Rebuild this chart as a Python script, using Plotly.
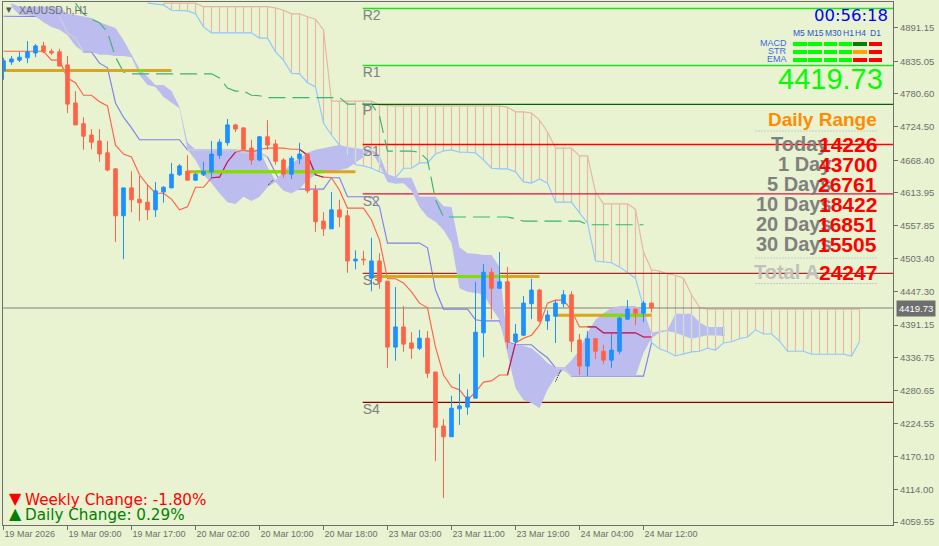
import plotly.graph_objects as go

# ---- candles (one per bar, index = bar number) ----
opens = [4819,4834,4837,4841,4849,4861,4852,4851,4829,4765,4730,4711,4701,4681,4654,4575,4622,4603,4598,4585,4615,4622,4644,4650,4635,4644,4649,4677,4698,4728,4723,4689,4669,4708,4696,4669,4645,4671,4679,4618,4566,4553,4585,4575,4499,4502,4470,4499,4465,4354,4388,4361,4352,4369,4312,4221,4203,4250,4253,4268,4378,4480,4453,4464,4363,4374,4427,4450,4398,4406,4427,4442,4366,4322,4368,4347,4332,4347,4401,4418,4411,4428]
highs = [4841,4844,4851,4869,4864,4868,4856,4856,4844,4785,4741,4721,4721,4701,4655,4622,4650,4642,4627,4632,4625,4664,4662,4677,4647,4666,4701,4704,4738,4730,4724,4703,4709,4736,4703,4672,4676,4698,4679,4627,4581,4615,4602,4585,4517,4516,4538,4512,4465,4455,4423,4379,4383,4381,4312,4233,4272,4309,4283,4464,4494,4487,4514,4489,4393,4440,4469,4452,4416,4433,4450,4448,4376,4381,4369,4358,4376,4405,4433,4418,4432,4428]
lows = [4804,4829,4834,4832,4842,4849,4846,4827,4748,4728,4686,4687,4666,4650,4531,4502,4581,4566,4568,4573,4597,4622,4642,4635,4634,4642,4637,4671,4693,4716,4686,4661,4667,4686,4661,4639,4637,4662,4613,4548,4541,4553,4556,4479,4485,4492,4448,4452,4319,4331,4346,4334,4349,4302,4162,4100,4203,4223,4240,4268,4337,4401,4453,4351,4359,4373,4401,4396,4383,4361,4421,4346,4307,4305,4334,4326,4319,4342,4400,4391,4396,4413]
closes = [4836,4839,4842,4851,4861,4851,4849,4827,4763,4728,4709,4699,4679,4652,4575,4622,4602,4597,4585,4617,4623,4645,4659,4635,4645,4650,4679,4699,4728,4721,4687,4669,4708,4694,4667,4645,4672,4679,4617,4565,4553,4585,4573,4499,4502,4501,4499,4464,4354,4388,4359,4352,4369,4310,4219,4203,4251,4255,4270,4379,4480,4453,4464,4363,4376,4428,4450,4398,4408,4428,4442,4364,4322,4368,4347,4332,4349,4403,4418,4411,4428,4419.73]

# ---- ichimoku-style lines ----
tenkan = [4852,4852,4852,4852,4852,4852,4837,4837,4807,4799,4778,4778,4767,4760,4694,4679,4674,4644,4627,4613,4613,4603,4585,4590,4623,4623,4639,4640,4666,4682,4686,4682,4687,4689,4689,4689,4687,4687,4677,4644,4640,4639,4618,4588,4588,4588,4568,4534,4469,4469,4462,4447,4428,4420,4354,4307,4287,4282,4265,4278,4295,4297,4307,4307,4361,4369,4374,4391,4428,4433,4433,4416,4388,4388,4388,4378,4378,4378,4378,4378,4371,4371]
kijun = [4911,4911,4911,4911,4911,4911,4911,4910,4883,4874,4851,4851,4832,4824,4765,4741,4723,4703,4703,4703,4703,4703,4703,4686,4686,4686,4686,4686,4686,4686,4681,4681,4681,4674,4647,4623,4620,4620,4620,4620,4620,4639,4639,4607,4607,4607,4607,4590,4529,4529,4529,4529,4529,4521,4450,4418,4418,4418,4418,4400,4398,4398,4398,4363,4358,4358,4358,4346,4336,4319,4319,4305,4305,4305,4305,4305,4305,4305,4305,4305,4305,4361]
chikou_first_bar = 9
chikou = [4933,4915,4906,4900,4884,4842,4817,4814,4814,4814,4814,4814,4814,4814,4814,4814,4814,4814,4807,4790,4785,4785,4778,4777,4774,4774,4774,4774,4774,4774,4774,4774,4774,4774,4763,4763,4763,4763,4743,4684,4684,4684,4684,4682,4669,4602,4573,4573,4573,4573,4573,4573,4573,4573,4573,4570,4566,4566,4566,4566,4566,4566,4566,4566,4560,4560,4560,4560,4560,4560,4560,4560]

# upper hatched band, salmon edge from bar 20, blue edge from bar 18
salmon_first_bar = 20
salmon = [4933,4933,4933,4933,4933,4927,4927,4927,4927,4927,4927,4927,4927,4927,4925,4921,4915,4915,4910,4906,4888,4768,4768,4768,4768,4768,4768,4761,4760,4760,4760,4760,4760,4760,4760,4760,4760,4760,4760,4760,4760,4760,4760,4758,4750,4750,4748,4736,4716,4689,4689,4689,4676,4676,4615,4595,4595,4595,4595,4586,4514,4484,4482,4477,4475,4470,4442,4421,4418,4418,4418,4418,4418,4418,4418,4418,4418,4418,4418,4418,4418,4418,4418,4418,4418,4418,4418,4418]
sky_first_bar = 18
sky = [4933,4932,4930,4921,4921,4920,4915,4893,4883,4883,4883,4883,4883,4883,4874,4874,4851,4837,4815,4814,4799,4792,4731,4711,4694,4677,4661,4659,4655,4649,4644,4639,4655,4655,4664,4664,4679,4684,4686,4682,4682,4681,4669,4655,4654,4654,4649,4632,4630,4637,4630,4598,4598,4598,4580,4563,4499,4497,4496,4489,4480,4470,4421,4362,4351,4346,4339,4342,4346,4347,4352,4349,4361,4363,4368,4371,4383,4376,4376,4364,4347,4347,4347,4342,4342,4342,4342,4342,4339,4363]

# lavender cloud, bars 1..90
cloud_first_bar = 1
cloud_top = [4933,4927,4927,4927,4927,4927,4925,4915,4913,4911,4908,4901,4896,4891,4871,4847,4822,4809,4795,4795,4785,4758,4699,4686,4686,4686,4686,4686,4686,4686,4686,4686,4657,4635,4649,4664,4672,4681,4686,4689,4692,4694,4691,4689,4687,4687,4677,4644,4639,4639,4639,4607,4607,4607,4591,4590,4522,4512,4511,4509,4509,4489,4361,4359,4356,4352,4341,4327,4319,4318,4332,4349,4378,4400,4411,4420,4423,4423,4423,4413,4378,4381,4383,4410,4410,4410,4396,4388,4388,4388]
cloud_bottom = [4927,4913,4912,4911,4901,4893,4888,4879,4861,4851,4851,4846,4846,4844,4844,4842,4812,4795,4792,4775,4765,4756,4686,4669,4644,4630,4613,4598,4595,4607,4600,4607,4623,4632,4617,4613,4620,4635,4644,4649,4649,4652,4655,4664,4674,4684,4660,4632,4629,4630,4617,4590,4573,4565,4551,4529,4453,4447,4445,4443,4420,4400,4344,4285,4265,4260,4251,4282,4304,4315,4305,4305,4305,4305,4305,4305,4305,4305,4305,4344,4369,4378,4381,4378,4373,4368,4371,4374,4373,4373]

tenkan_cloud_bars = [26,27,28,29,37,38,39,40,63,64,73,74,75,76,77,78,79,80,81]
kijun_cloud_bars = [7,8,9,10,23,24,25,26,27,28,29,30,31,32,33,69,70,71]

# small dark dotted marks where the cloud twists
twist_bars = [33.1, 33.7, None, 69.0, 69.65]
twist_prices = [4627, 4635, None, 4296, 4315]

# ---- levels ----
pivot_names = ["R2","R1","P","S1","S2","S3","S4"]
pivot_levels = [4924,4828,4762.4,4695,4612,4478,4261]
pivot_label_prices = [4911,4815,4750,4682,4598,4465,4248]
pivot_colors = ["#22DD22","#22DD22","#006400","#FF0000","#DC143C","#A52A2A","#8B0000"]
pivot_first_bar = 44.9

gold_levels = [4819.6,4649,4473,4407.5]
gold_starts = [0,23,46,69]
gold_ends = [21,44,67,81]
lime_starts = [16.9,24,56.5,75]
lime_ends = [17.6,40,62.5,80]

last_price = 4419.73

# ---- axes ----
y_ticks = [4891.15,4835.05,4780.60,4724.50,4668.40,4613.95,4557.85,4503.40,4447.30,4391.15,4336.75,4280.65,4224.55,4170.10,4114.00,4059.55]
x_tick_bars = [0,8,16,24,32,40,48,56,64,72,80]
x_tick_labels = ["19 Mar 2026","19 Mar 09:00","19 Mar 17:00","20 Mar 02:00","20 Mar 10:00","20 Mar 18:00","23 Mar 03:00","23 Mar 11:00","23 Mar 19:00","24 Mar 04:00","24 Mar 12:00"]

# ---- panel ----
range_labels = ["Today","1 Day","5 Days","10 Days","20 Days","30 Days","Total A"]
range_values = ["14226","43700","26761","18422","16851","15505","24247"]
tf_names = ["M5","M15","M30","H1","H4","D1"]
sig_names = ["MACD","STR","EMA"]
sig_colors = [["#00FF00","#00FF00","#00FF00","#00FF00","#008000","#FF0000"],
              ["#00FF00","#00FF00","#00FF00","#00FF00","#FFA500","#FF0000"],
              ["#00FF00","#00FF00","#00FF00","#00FF00","#FF0000","#FF0000"]]

W, H = 939, 546
L, R, T, B = 3, 893, 2, 525
XR = [-0.0625, 111.1875]
YR = [4054.5, 4934.9]
BG = "#E9F3D1"
RED = "#FF6347"
BLUE = "#1E90FF"
SANS = "Liberation Sans"

def px(X): return (X - L) / (R - L)
def py(Y): return (B - Y) / (B - T)

fig = go.Figure()

def line(xs, ys, color, width=1.15, dash=None):
    fig.add_trace(go.Scatter(x=xs, y=ys, mode="lines", hoverinfo="skip", showlegend=False,
                             line=dict(color=color, width=width, dash=dash), connectgaps=False))

def only(series, bars):
    return [v if i in bars else None for i, v in enumerate(series)]

# kijun under the cloud
line(list(range(len(kijun))), kijun, "#8080F0")

# hatch
hx, hy = [], []
px_over, py_over = [], []
for k, top in enumerate(salmon):
    bar = salmon_first_bar + k
    low = sky[bar - sky_first_bar]
    hx += [bar, bar, None]
    hy += [top, low, None]
    if cloud_first_bar <= bar < cloud_first_bar + len(cloud_top):
        ctop = cloud_top[bar - cloud_first_bar]
        cbot = cloud_bottom[bar - cloud_first_bar]
        a, b = min(top, ctop), max(low, cbot)
        if a > b:
            px_over += [bar, bar, None]
            py_over += [a, b, None]
line(hx, hy, "#E8B8A4")
line([sky_first_bar + k for k in range(len(sky))], sky, "#8CC8FF")
line([salmon_first_bar + k for k in range(len(salmon))], salmon, "#E8B4A0")

# horizontal levels
for lv, col in zip(pivot_levels, pivot_colors):
    line([pivot_first_bar, XR[1]], [lv, lv], col, 1.3)
line(XR, [last_price, last_price], "#808080", 1.1)

# cloud
cb = [cloud_first_bar + k for k in range(len(cloud_top))]
fig.add_trace(go.Scatter(x=cb + cb[::-1], y=cloud_top + cloud_bottom[::-1], mode="lines", fill="toself",
                         fillcolor="#BCBCEE", line=dict(width=0, color="#BCBCEE"),
                         hoverinfo="skip", showlegend=False))
line([cb[-1], cb[-1]], [cloud_top[-1], cloud_bottom[-1]], "#4B0082", 1.2)
line(px_over, py_over, "#C4E6D8")

# overlays on cloud
line(list(range(len(kijun))), only(kijun, kijun_cloud_bars), "#CFCFDC")
line(list(range(len(tenkan))), tenkan, "#FF6347")
line(list(range(len(tenkan))), only(tenkan, tenkan_cloud_bars), "#A8226E")
line([chikou_first_bar + k for k in range(len(chikou))], chikou, "#3CB371", 1.15, "17px,7px")
line(twist_bars, twist_prices, "#000000", 1, "1px,1px")

# gold bars
for lv, a, b in zip(gold_levels, gold_starts, gold_ends):
    line([a, b], [lv, lv], "#DAA520", 3)
for lv, a, b in zip(gold_levels, lime_starts, lime_ends):
    line([a, b], [lv, lv], "#7FE000", 3)

# pivot labels (under the candles)
fig.add_trace(go.Scatter(x=[pivot_first_bar] * len(pivot_names), y=pivot_label_prices, mode="text",
                         text=pivot_names, textposition="middle right", hoverinfo="skip", showlegend=False,
                         textfont=dict(family=SANS, size=14, color="#808080")))

# candles on an overlaid axis pair so that they sit on top of every line
fig.add_trace(go.Candlestick(x=list(range(len(opens))), open=opens, high=highs, low=lows, close=closes,
                             xaxis="x2", yaxis="y2", whiskerwidth=0, showlegend=False, hoverinfo="skip",
                             increasing=dict(line=dict(color=BLUE, width=1), fillcolor=BLUE),
                             decreasing=dict(line=dict(color=RED, width=1), fillcolor=RED)))

ann = []
def text(X, Y, s, size, color, anchor="left", bold=False, family=SANS, **kw):
    ann.append(dict(x=px(X), y=py(Y), xref="paper", yref="paper", text=f"<b>{s}</b>" if bold else s,
                    showarrow=False, xanchor=anchor, yanchor="middle", borderpad=0,
                    font=dict(size=size, color=color, family=family), **kw))

text(18, 10, "XAUUSD.h,H1", 10.5, "#6E6E6E")
text(5, 10, "▾", 11, "#555555", family="DejaVu Sans")
text(889, 15, "00:56:18", 16.5, "#0000FF", "right", family="DejaVu Sans")
tf_centers = [799, 815, 833, 848, 860, 875]
for c, s in zip(tf_centers, tf_names):
    text(c, 33, s, 8.5, "#2A52D0", "center")
for Y, s in zip([43, 51, 59], sig_names):
    text(788, Y, s, 9, "#4169E1", "right")
text(884, 79, "4419.73", 29, "#00FF00", "right")
text(878, 119, "Daily Range", 19, "#FF8C00", "right", bold=True)
label_left = [770, 777, 766, 755, 755, 755, 753]
row_y = [144, 164, 184, 204, 224, 244, 272]
for i, (lab, val) in enumerate(zip(range_labels, range_values)):
    text(label_left[i], row_y[i], lab, 20, "#C0C0C0" if lab.startswith("Total") else "#808080", bold=True)
for i, (lab, val) in enumerate(zip(range_labels, range_values)):
    text(878, row_y[i], val, 21, "#FF0000", "right", bold=True)
text(8, 498, "▼", 16, "#FF0000", family="DejaVu Sans")
text(8, 513, "▲", 16, "#008000", family="DejaVu Sans")
text(24, 500, "Weekly Change: -1.80%", 15.2, "#FF0000", family="DejaVu Sans")
text(24, 515, "Daily Change: 0.29%", 15.2, "#008000", family="DejaVu Sans")

# current price tag
ann.append(dict(x=1, y=last_price, xref="paper", yref="y", text="4419.73", showarrow=False, xanchor="left",
                xshift=3, yanchor="middle", bgcolor="#6E6E6E", borderpad=2,
                font=dict(size=9.5, color="#FFFFFF", family=SANS)))

shapes = []
col_edges = [(793, 807), (808, 822), (824, 837), (839, 852), (853, 867), (869, 882)]
row_edges = [(42, 46), (50, 54), (58, 62)]
for r, (y0, y1) in enumerate(row_edges):
    for c, (x0, x1) in enumerate(col_edges):
        shapes.append(dict(type="rect", xref="paper", yref="paper", x0=px(x0), x1=px(x1), y0=py(y1), y1=py(y0),
                           fillcolor=sig_colors[r][c], line=dict(width=0)))
for Y in [131, 258, 283.5]:
    shapes.append(dict(type="line", xref="paper", yref="paper", x0=px(755), x1=px(878), y0=py(Y), y1=py(Y),
                       line=dict(color="#C8C8C8", width=1, dash="2px,1px")))

axis_color = "#6E6E6E"
fig.update_layout(
    width=W, height=H, paper_bgcolor=BG, plot_bgcolor=BG, showlegend=False,
    margin=dict(l=L, r=W - R, t=T, b=H - B, autoexpand=False, pad=0),
    hovermode=False, boxgap=0.36,
    annotations=ann, shapes=shapes,
    xaxis=dict(range=XR, showgrid=False, zeroline=False, tickmode="array", tickvals=x_tick_bars,
               ticktext=x_tick_labels, ticks="outside", ticklen=4, tickcolor=axis_color, tickwidth=1, tickangle=0,
               ticklabelposition="outside right", showline=True, linecolor=axis_color, linewidth=1, mirror=True,
               tickfont=dict(family=SANS, size=9, color="#6E6E6E"), rangeslider=dict(visible=False)),
    yaxis=dict(range=YR, side="right", showgrid=False, zeroline=False, tickmode="array", tickvals=y_ticks,
               ticktext=[f"{v:.2f}" for v in y_ticks], ticks="outside", ticklen=4, tickcolor=axis_color, tickwidth=1,
               showline=True, linecolor=axis_color, linewidth=1, mirror=True,
               tickfont=dict(family=SANS, size=9.5, color="#6E6E6E")),
    xaxis2=dict(range=XR, overlaying="x", visible=False, rangeslider=dict(visible=False)),
    yaxis2=dict(range=YR, overlaying="y", visible=False),
)

fig.write_html("out.html", config={"displayModeBar": False}, post_script="document.body.style.margin='0';document.body.style.overflow='hidden';")
